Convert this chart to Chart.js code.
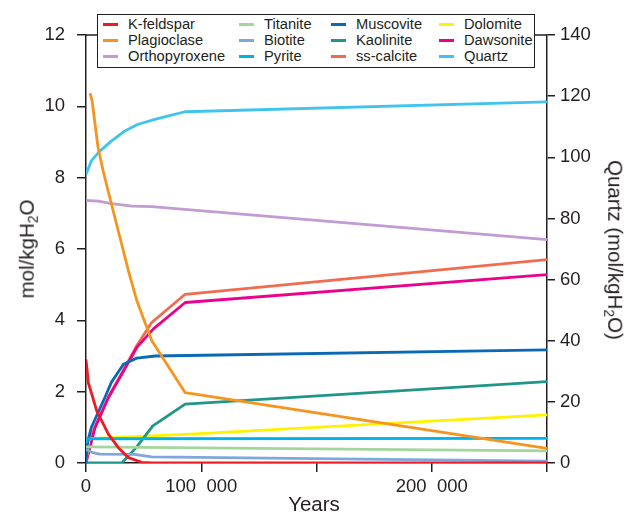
<!DOCTYPE html>
<html>
<head>
<meta charset="utf-8">
<script src="https://cdn.jsdelivr.net/npm/chart.js@4.4.0/dist/chart.umd.min.js"></script>
<style>
    html, body { margin: 0; padding: 0; background: #fff; }
    #wrap { position: relative; width: 637px; height: 513px; }
    #chart { position: absolute; left: 0; top: 0; }
    .axis-title {
        position: absolute;
        font-family: 'Liberation Sans', Arial, sans-serif;
        font-size: 20.5px;
        line-height: 1;
        color: #231f20;
        white-space: nowrap;
    }
    .axis-title sub { font-size: 0.68em; vertical-align: -0.28em; line-height: 0; }
    #legend {
        position: absolute;
        left: 97px; top: 14px;
        width: 436px; height: 52px;
        border: 1.5px solid #231f20;
        background: #fff;
        font-family: 'Liberation Sans', Arial, sans-serif;
        font-size: 14.7px;
        color: #231f20;
    }
    .item { position: absolute; height: 16px; line-height: 16px; white-space: nowrap; }
    .item i { position: absolute; left: 0; top: 6.5px; width: 15px; height: 3px; }
    .item span { position: absolute; left: 25px; top: 0; }
</style>
</head>
<body>
<div id="wrap">
    <canvas id="chart" width="637" height="513"></canvas>
    <div id="legend"></div>
    <div class="axis-title" id="yTitle">mol/kgH<sub>2</sub>O</div>
    <div class="axis-title" id="y1Title">Quartz (mol/kgH<sub>2</sub>O)</div>
    <div class="axis-title" id="xTitle">Years</div>
</div>
<script>
// values: [years, mol/kgH2O]
const kFeldspar = [[0, 2.9], [1000, 2.6], [2000, 2.25], [5000, 1.93], [9300, 1.46], [13700, 1.18], [19400, 0.81], [28100, 0.43], [36800, 0.15], [48400, 0.02], [57000, 0], [400000, 0]];
const plagioclase = [[3500, 10.37], [5200, 10.17], [10400, 8.86], [14800, 8.2], [19100, 7.64], [36800, 5.39], [44100, 4.55], [57100, 3.43], [86100, 1.97], [400000, 0.41]];
const orthopyroxene = [[0, 7.36], [10700, 7.34], [22300, 7.27], [40000, 7.2], [57000, 7.19], [400000, 6.26]];
const titanite = [[0, 0.45], [400000, 0.34]];
const biotite = [[0, 0.38], [5000, 0.3], [12000, 0.25], [42000, 0.24], [57000, 0.17], [400000, 0.05]];
const pyrite = [[0, 0.55], [1500, 0.68], [400000, 0.69]];
const muscovite = [[0, 0], [1500, 0.6], [4600, 0.99], [10400, 1.41], [16300, 1.83], [22000, 2.26], [27000, 2.5], [32500, 2.77], [44000, 2.94], [60000, 3.0], [400000, 3.17]];
const kaolinite = [[0, 0], [31000, 0], [43500, 0.43], [58000, 1.04], [86000, 1.65], [400000, 2.28]];
const ssCalcite = [[0, 0], [1000, 0.68], [4000, 0.72], [7800, 1.0], [19400, 1.85], [31000, 2.52], [44000, 3.29], [57000, 3.94], [86000, 4.73], [400000, 5.7]];
const dolomite = [[0, 0], [2500, 0.68], [86000, 0.8], [400000, 1.35]];
const dawsonite = [[0, 0], [7800, 0.99], [19400, 1.83], [31000, 2.49], [44100, 3.24], [58500, 3.76], [86100, 4.5], [400000, 5.28]];
// quartz on the right axis
const quartz = [[0, 94.4], [4600, 98.8], [11900, 102], [22000, 105.3], [33700, 108.6], [45200, 110.8], [59700, 112.4], [74200, 113.8], [85800, 114.9], [400000, 118.1]];

const mineralNames = ['K-feldspar', 'Plagioclase', 'Orthopyroxene', 'Titanite', 'Biotite', 'Pyrite',
    'Muscovite', 'Kaolinite', 'ss-calcite', 'Dolomite', 'Dawsonite', 'Quartz'];
const mineralData = [kFeldspar, plagioclase, orthopyroxene, titanite, biotite, pyrite,
    muscovite, kaolinite, ssCalcite, dolomite, dawsonite, quartz];
const xTickLabels = ['0', '100  000', '', '200  000', ''];

const colors = ['#ed1c24', '#f7941d', '#c39bd3', '#a3d69c', '#7fa7dd', '#00b3e9',
    '#0a69b5', '#20958a', '#f26b4d', '#fff200', '#ec008c', '#40c4ef'];
const ink = '#231f20';
const fontFamily = "'Liberation Sans', Arial, sans-serif";

// legend, column by column like the original
const legend = document.getElementById('legend');
const colLeft = [5, 141, 233, 341];
const rowTop = [1, 17, 33];
mineralNames.forEach(function (name, i) {
    const item = document.createElement('div');
    item.className = 'item';
    item.style.left = colLeft[Math.floor(i / 3)] + 'px';
    item.style.top = rowTop[i % 3] + 'px';
    item.innerHTML = '<i style="background:' + colors[i] + '"></i><span>' + name + '</span>';
    legend.appendChild(item);
});

function placeTitle(id, cx, cy, angle) {
    const el = document.getElementById(id);
    el.style.left = cx + 'px';
    el.style.top = cy + 'px';
    el.style.transform = 'translate(-50%, -50%) rotate(' + angle + 'deg)';
}
placeTitle('yTitle', 27, 249, -90);
placeTitle('y1Title', 615, 250, 90);
placeTitle('xTitle', 314, 504, 0);

const topFrame = {
    id: 'topFrame',
    afterDatasetsDraw: function (chart) {
        const a = chart.chartArea, ctx = chart.ctx;
        ctx.save();
        ctx.strokeStyle = ink;
        ctx.lineWidth = 1.5;
        ctx.beginPath();
        ctx.moveTo(a.left, a.top);
        ctx.lineTo(a.right, a.top);
        ctx.stroke();
        ctx.restore();
    }
};

function tickGrid(len) {
    return { drawOnChartArea: false, drawTicks: true, tickLength: len, color: ink, lineWidth: 1.5 };
}

new Chart(document.getElementById('chart'), {
    type: 'line',
    data: {
        datasets: mineralNames.map(function (name, i) {
            return {
                label: name,
                data: mineralData[i].map(function (p) { return { x: p[0], y: p[1] }; }),
                yAxisID: name === 'Quartz' ? 'y1' : 'y',
                borderColor: colors[i],
                backgroundColor: colors[i],
                borderWidth: 2.8,
                borderJoinStyle: 'round',
                pointRadius: 0,
                tension: 0,
                order: name === 'ss-calcite' ? 1 : 0
            };
        })
    },
    options: {
        responsive: false,
        animation: false,
        layout: { padding: { top: 35, left: 0, right: 0, bottom: 0 } },
        plugins: { legend: { display: false }, tooltip: { enabled: false } },
        scales: {
            x: {
                type: 'linear', min: 0, max: 400000,
                ticks: {
                    stepSize: 100000, color: ink, padding: 4, maxRotation: 0, autoSkip: false,
                    font: { family: fontFamily, size: 18.5 },
                    callback: function (v, i) { return xTickLabels[i]; }
                },
                grid: tickGrid(9),
                border: { color: ink, width: 1.5 },
                afterFit: function (s) { s.height = 50; }
            },
            y: {
                position: 'left', min: 0, max: 12,
                ticks: { stepSize: 2, color: ink, padding: 12, font: { family: fontFamily, size: 18.5 } },
                grid: tickGrid(9),
                border: { color: ink, width: 1.5 },
                afterFit: function (s) { s.width = 86; }
            },
            y1: {
                position: 'right', min: 0, max: 140,
                ticks: { stepSize: 20, color: ink, padding: 5, font: { family: fontFamily, size: 18.5 } },
                grid: tickGrid(8),
                border: { color: ink, width: 1.5 },
                afterFit: function (s) { s.width = 90; }
            }
        }
    },
    plugins: [topFrame]
});
</script>
</body>
</html>
